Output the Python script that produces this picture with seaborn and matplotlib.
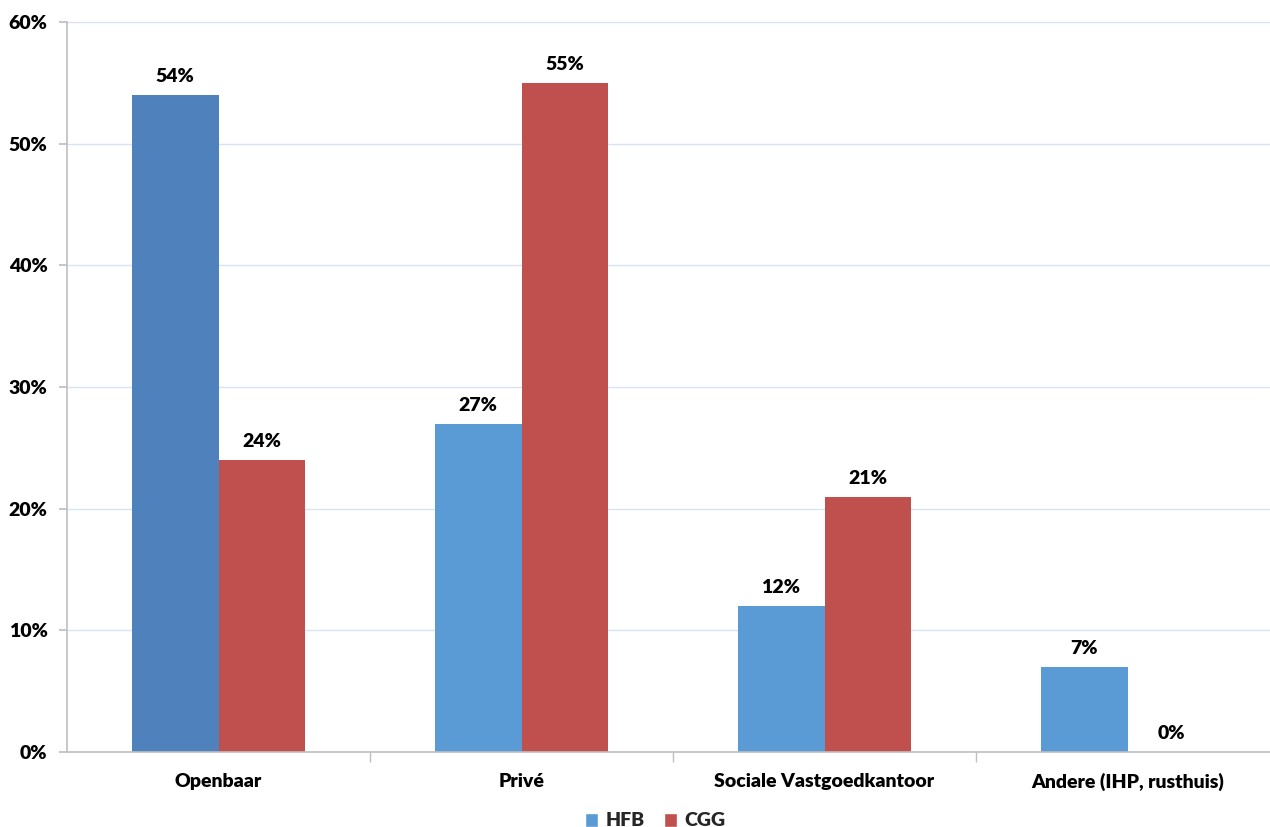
import matplotlib
matplotlib.use("Agg")
import matplotlib.pyplot as plt
import seaborn as sns
import pandas as pd
from matplotlib.patches import Patch
from matplotlib.ticker import PercentFormatter, MultipleLocator

categories = ["Openbaar", "Privé", "Sociale Vastgoedkantoor", "Andere (IHP, rusthuis)"]
series = ["HFB", "CGG"]
hfb = [54, 27, 12, 7]
cgg = [24, 55, 21, 0]

df = pd.DataFrame({
    "categorie": categories * 2,
    "reeks": [series[0]] * len(categories) + [series[1]] * len(categories),
    "waarde": hfb + cgg,
})

sns.set_theme(style="white")
plt.rcParams["font.family"] = ["Lato", "DejaVu Sans"]
plt.rcParams["font.weight"] = "heavy"
W = "heavy"
FS = 14

colors = {"HFB": "#5B9BD5", "CGG": "#C0504D"}

fig = plt.figure(figsize=(12.70, 8.27), dpi=100)
ax = fig.add_axes([67 / 1270, 75 / 827, 1212 / 1270, 730 / 827])

sns.barplot(data=df, x="categorie", y="waarde", hue="reeks", order=categories,
            hue_order=series, palette=colors, width=0.574, saturation=1,
            ax=ax, legend=False, linewidth=0)

# first HFB bar in the darker blue
ax.patches[0].set_facecolor("#4F81BD")

for container in ax.containers:
    ax.bar_label(container, labels=[f"{v:.0f}%" for v in container.datavalues],
                 padding=7, fontsize=FS, fontweight=W, color="#000000")

ax.set_ylim(0, 60)
ax.set_xlim(-0.5, len(categories) - 0.5)
ax.yaxis.set_major_locator(MultipleLocator(10))
ax.yaxis.set_major_formatter(PercentFormatter(decimals=0))
ax.set_xlabel("")
ax.set_ylabel("")

ax.grid(axis="y", color="#D6E4F5", linewidth=1)
ax.set_axisbelow(True)

for side in ["top", "right"]:
    ax.spines[side].set_visible(False)
for side in ["left", "bottom"]:
    ax.spines[side].set_color("#BFBFBF")
    ax.spines[side].set_linewidth(1.2)

ax.tick_params(axis="y", left=True, length=6, color="#BFBFBF", labelsize=FS,
               pad=8, labelcolor="#000000")
ax.set_xticks([i + 0.5 for i in range(len(categories) - 1)], minor=True)
ax.tick_params(axis="x", which="major", bottom=False, labelsize=FS, pad=9,
               labelcolor="#000000")
ax.tick_params(axis="x", which="minor", bottom=True, length=7, color="#BFBFBF")
for lbl in ax.get_xticklabels() + ax.get_yticklabels():
    lbl.set_fontweight(W)

handles = [Patch(facecolor=colors[s], label=s) for s in series]
fig.legend(handles=handles, loc="center", bbox_to_anchor=(655 / 1270, 1 - 821 / 827),
           ncol=2, frameon=False, handlelength=0.7, handleheight=0.7,
           handletextpad=0.35, columnspacing=1.0, prop={"weight": W, "size": FS})

fig.savefig("out.png", dpi=100)
